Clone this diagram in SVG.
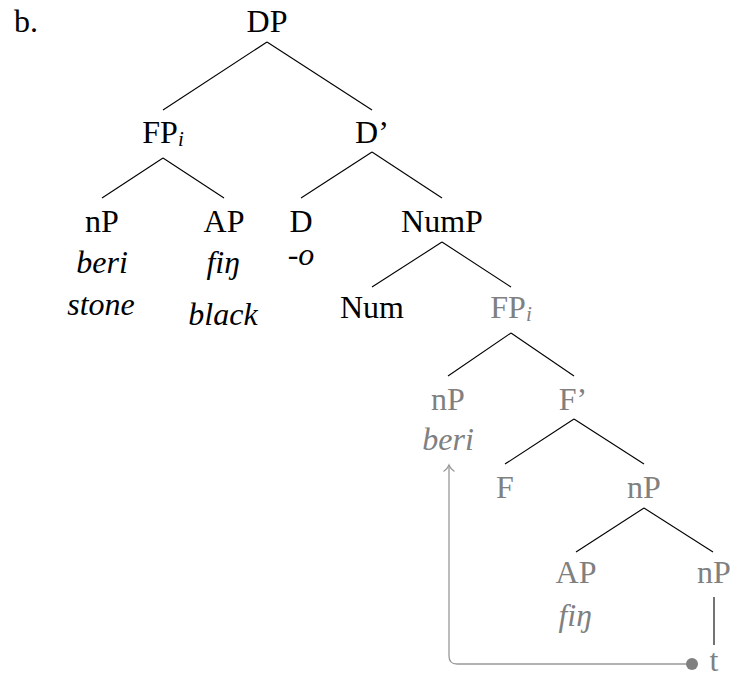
<svg xmlns="http://www.w3.org/2000/svg" width="739" height="677" viewBox="0 0 739 677">
<style>
text{font-family:"Liberation Serif","Times New Roman",serif;font-size:32px;fill:#000;text-anchor:middle}
.g{fill:#808080}
.it{font-style:italic}
.sub{font-size:21px;font-style:italic}
.e{stroke:#000;stroke-width:1.1;fill:none}
.mv{stroke:#999;stroke-width:1.3;fill:none}
</style>
<text x="14" y="32" style="text-anchor:start">b.</text>
<g id="connectors">
<line class="e" x1="267" y1="42" x2="163" y2="110"/>
<line class="e" x1="267" y1="42" x2="372" y2="110"/>
<line class="e" x1="163" y1="158" x2="102" y2="198"/>
<line class="e" x1="163" y1="158" x2="224" y2="198"/>
<line class="e" x1="372" y1="152" x2="301" y2="198"/>
<line class="e" x1="372" y1="152" x2="442" y2="198"/>
<line class="e" x1="442" y1="242" x2="372" y2="287"/>
<line class="e" x1="442" y1="242" x2="511" y2="287"/>
<line class="e" x1="511" y1="333" x2="448" y2="376"/>
<line class="e" x1="511" y1="333" x2="574" y2="376"/>
<line class="e" x1="574" y1="419" x2="505" y2="464"/>
<line class="e" x1="574" y1="419" x2="644" y2="464"/>
<line class="e" x1="644" y1="508" x2="576" y2="552"/>
<line class="e" x1="644" y1="508" x2="713" y2="552"/>
<line class="e" x1="714" y1="597" x2="714" y2="645"/>
<path class="mv" d="M692,664 H457 Q449,664 449,656 V466"/>
<path class="mv" d="M443.5,471.5 Q447.5,469 449,465 Q450.5,469 454.5,471.5"/>
<circle cx="692" cy="664" r="6" fill="#808080"/>
</g>
<g id="DP"><text x="267" y="32">DP</text></g>
<g id="FPi"><text x="163" y="143">FP<tspan class="sub" dy="3">i</tspan></text></g>
<g id="Dbar"><text x="372" y="143">D’</text></g>
<g id="nP1"><text x="102" y="232">nP</text><text class="it" x="102" y="273">beri</text><text class="it" x="101" y="315">stone</text></g>
<g id="AP1"><text x="224" y="232">AP</text><text class="it" x="223" y="273">fiŋ</text><text class="it" x="223" y="325">black</text></g>
<g id="D"><text x="301" y="232">D</text><text class="it" x="301" y="265">-o</text></g>
<g id="NumP"><text x="442" y="232">NumP</text></g>
<g id="Num"><text x="372" y="318">Num</text></g>
<g id="FPi2"><text class="g" x="511" y="318">FP<tspan class="sub" dy="3">i</tspan></text></g>
<g id="nP2"><text class="g" x="448" y="410">nP</text><text class="g it" x="448" y="450">beri</text></g>
<g id="Fbar"><text class="g" x="573" y="410">F’</text></g>
<g id="F"><text class="g" x="505" y="498">F</text></g>
<g id="nP3"><text class="g" x="644" y="498">nP</text></g>
<g id="AP2"><text class="g" x="576" y="583">AP</text><text class="g it" x="575" y="626">fiŋ</text></g>
<g id="nP4"><text class="g" x="714" y="583">nP</text></g>
<g id="t"><text class="g" x="714" y="671">t</text></g>
</svg>
